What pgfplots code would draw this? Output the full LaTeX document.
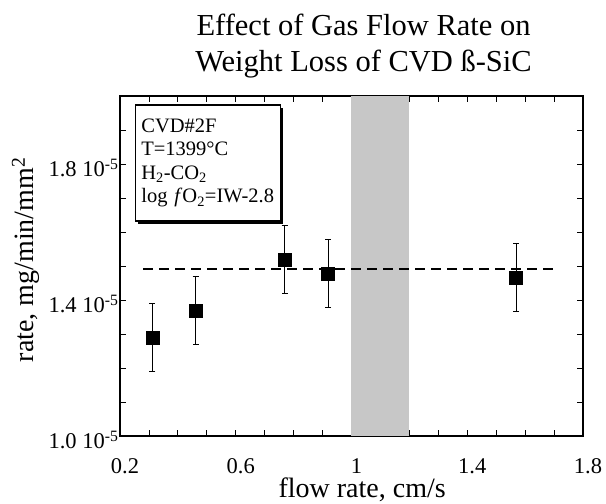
\documentclass[border=0pt]{standalone}
\usepackage{fontspec}
\setmainfont{Liberation Serif}
\usepackage{pgfplots}
\pgfplotsset{compat=1.18}
\usetikzlibrary{shadows}
\begin{document}
\begin{tikzpicture}[x=1pt,y=1pt]
\useasboundingbox (-120,-68) rectangle (486,436);
\begin{axis}[
  at={(0,0)}, anchor=south west,
  scale only axis, width=463pt, height=340pt,
  xmin=0.2, xmax=1.8, ymin=1.0, ymax=2.0,
  xtick={0.2,0.6,1,1.4,1.8}, xticklabels={0.2,0.6,1,1.4,1.8},
  minor xtick={0.3,0.4,0.5,0.7,0.8,0.9,1.1,1.2,1.3,1.5,1.6,1.7},
  ytick={1.0,1.4,1.8},
  yticklabels={1.0 10\textsuperscript{-5},1.4 10\textsuperscript{-5},1.8 10\textsuperscript{-5}},
  minor ytick={1.1,1.2,1.3,1.5,1.6,1.7,1.9},
  tick align=inside, major tick length=6pt, minor tick length=6pt,
  tick style={black, line width=0.8pt},
  axis line style={line width=1.8pt},
  ticklabel style={font=\fontsize{22.5}{22.5}\selectfont},
  xticklabel style={anchor=base, yshift=-37pt, xshift=5pt},
  yticklabel style={anchor=east, xshift=2pt, yshift=-4pt},
  xlabel={flow rate, cm/s},
  ylabel={rate, mg/min/mm\textsuperscript{2}},
  label style={font=\fontsize{28}{28}\selectfont},
  xlabel style={at={(axis description cs:0.523,-0.182)}, anchor=base},
  ylabel style={at={(axis description cs:-0.203,0.518)}, anchor=center},
  title={Effect of Gas Flow Rate on\\Weight Loss of CVD ß-SiC},
  title style={align=center, font=\fontsize{30.5}{36}\selectfont,
    at={(axis description cs:0.526,1)}, anchor=north, yshift=76pt, inner sep=0pt},
  clip=false,
]
\addplot[fill=black!22, draw=none] coordinates {(1,1) (1.2,1) (1.2,2) (1,2)} -- cycle;
\addplot[black, line width=2pt, dash pattern=on 10pt off 6pt] coordinates {(0.28,1.49) (1.7,1.49)};
\addplot[black, only marks, mark=square*, mark size=6.5pt,
  error bars/.cd, y dir=both, y explicit,
  error bar style={line width=0.8pt, black},
  error mark options={rotate=90, mark size=3pt, line width=0.8pt, black}]
  coordinates {
  (0.312,1.289) +- (0,0.1)
  (0.461,1.369) +- (0,0.1)
  (0.769,1.518) +- (0,0.1)
  (0.919,1.478) +- (0,0.1)
  (1.569,1.467) +- (0,0.1)
  };
\node[draw, line width=1.2pt, fill=white, anchor=north west,
  minimum width=145pt, minimum height=116pt, inner xsep=6pt,
  align=left, text width=133pt,
  font=\fontsize{20.5}{23.5}\selectfont,
  drop shadow={shadow xshift=3pt, shadow yshift=-3pt, fill=black, opacity=1}]
  at (rel axis cs:0.032,0.975)
  {CVD\#2F\\T=1399°C\\H\textsubscript{2}-CO\textsubscript{2}\\log \textit{f}O\textsubscript{2}=IW-2.8};
\end{axis}
\end{tikzpicture}
\end{document}
